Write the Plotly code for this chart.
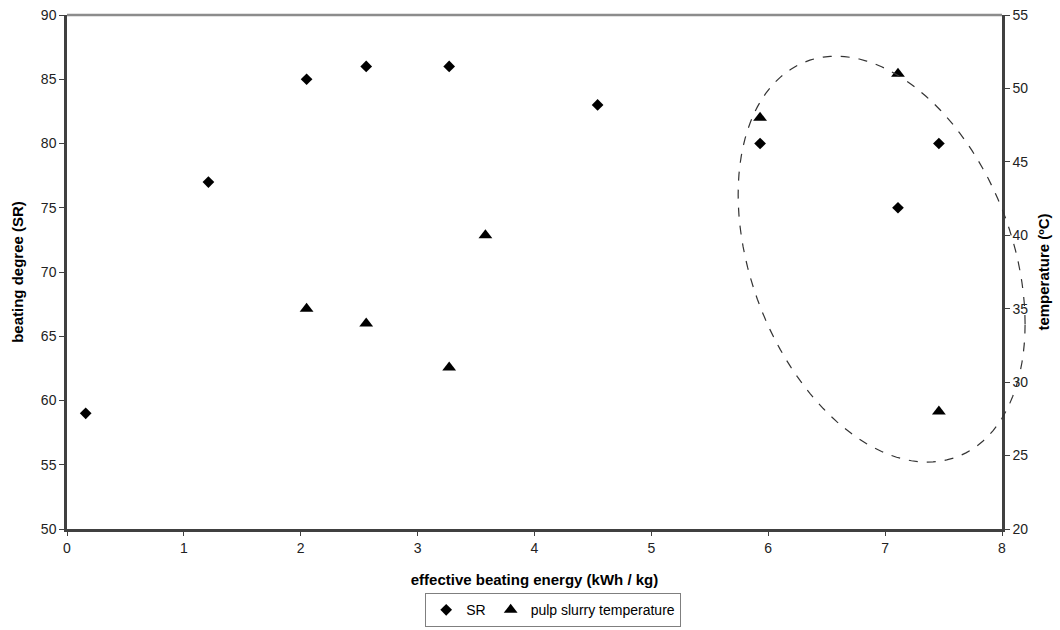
import numpy as np
import plotly.graph_objects as go

# ---- data ----
energy_sr = [0.16, 1.21, 2.05, 2.56, 3.27, 4.54, 5.93, 7.11, 7.46]
sr_values = [59, 77, 85, 86, 86, 83, 80, 75, 80]

energy_temp = [2.05, 2.56, 3.27, 3.58, 5.93, 7.11, 7.46]
temp_values = [35, 34, 31, 40, 48, 51, 28]

x_ticks = [0, 1, 2, 3, 4, 5, 6, 7, 8]
y_ticks = [50, 55, 60, 65, 70, 75, 80, 85, 90]
y2_ticks = [20, 25, 30, 35, 40, 45, 50, 55]

X_RANGE = [0, 8]
Y_RANGE = [50, 90]
Y2_RANGE = [20, 55]

# dashed ellipse highlighting the high-energy group (data units, x / left-y)
ell_cx, ell_cy = 6.97, 71.0
ell_ax, ell_cy_cos, ell_cy_sin = 1.2275, -5.04, 14.97

FONT = "Liberation Sans, Arial, sans-serif"
AXIS_COL = "#404040"

fig = go.Figure()
fig.add_trace(go.Scatter(
    x=energy_sr, y=sr_values, mode="markers", name="SR",
    marker=dict(symbol="diamond", size=9, color="black"),
    cliponaxis=False,
))
fig.add_trace(go.Scatter(
    x=energy_temp, y=temp_values, mode="markers", name="pulp slurry temperature",
    marker=dict(symbol="triangle-up", size=12, color="black"),
    yaxis="y2", cliponaxis=False,
))

# ellipse path (converted from data coords to paper coords so it is not clipped)
t = np.linspace(0, 2 * np.pi, 121)
ex = ell_cx + ell_ax * np.cos(t)
ey = ell_cy + ell_cy_cos * np.cos(t) + ell_cy_sin * np.sin(t)
px = (ex - X_RANGE[0]) / (X_RANGE[1] - X_RANGE[0])
py = (ey - Y_RANGE[0]) / (Y_RANGE[1] - Y_RANGE[0])
path = "M " + " L ".join(f"{a:.5f},{b:.5f}" for a, b in zip(px, py)) + " Z"
fig.add_shape(type="path", path=path, xref="paper", yref="paper",
              line=dict(color="#333333", width=1.2, dash="dash"), layer="above")

# top border (lighter gray)
fig.add_shape(type="line", xref="paper", yref="paper", x0=0, x1=1, y0=1, y1=1,
              line=dict(color="#8c8c8c", width=2.5))

tickfont = dict(family=FONT, size=14, color="#222222")
titlefont = dict(family=FONT, size=15, color="black")

fig.update_layout(
    width=1060, height=630,
    margin=dict(l=67, r=58, t=15, b=101, autoexpand=False),
    paper_bgcolor="white", plot_bgcolor="white",
    font=dict(family=FONT, color="black"),
    xaxis=dict(
        range=X_RANGE, tickvals=x_ticks, showgrid=False, zeroline=False,
        showline=True, linecolor=AXIS_COL, linewidth=2.5,
        ticks="outside", ticklen=4, tickcolor=AXIS_COL, tickwidth=1,
        tickfont=tickfont, automargin=False,
        title=dict(text="<b>effective beating energy (kWh / kg)</b>",
                   font=titlefont, standoff=20),
    ),
    yaxis=dict(
        range=Y_RANGE, tickvals=y_ticks, showgrid=False, zeroline=False,
        showline=True, linecolor=AXIS_COL, linewidth=2.5,
        ticks="outside", ticklen=5, tickcolor=AXIS_COL, tickwidth=1,
        tickfont=tickfont, automargin=False,
        title=dict(text="<b>beating degree (SR)</b>", font=titlefont, standoff=14),
    ),
    yaxis2=dict(
        range=Y2_RANGE, tickvals=y2_ticks, overlaying="y", side="right",
        showgrid=False, zeroline=False,
        showline=True, linecolor=AXIS_COL, linewidth=2.5,
        ticks="outside", ticklen=5, tickcolor=AXIS_COL, tickwidth=1,
        tickfont=tickfont, automargin=False,
        title=dict(text="<b>temperature (ºC)</b>", font=titlefont, standoff=12),
    ),
    legend=dict(
        orientation="h", x=0.52, xanchor="center", y=-0.125, yanchor="top",
        bordercolor="#7f7f7f", borderwidth=1, bgcolor="white",
        font=dict(family=FONT, size=14, color="black"),
        itemwidth=30, tracegroupgap=0,
    ),
    showlegend=True,
)

fig.write_html("out.html")
